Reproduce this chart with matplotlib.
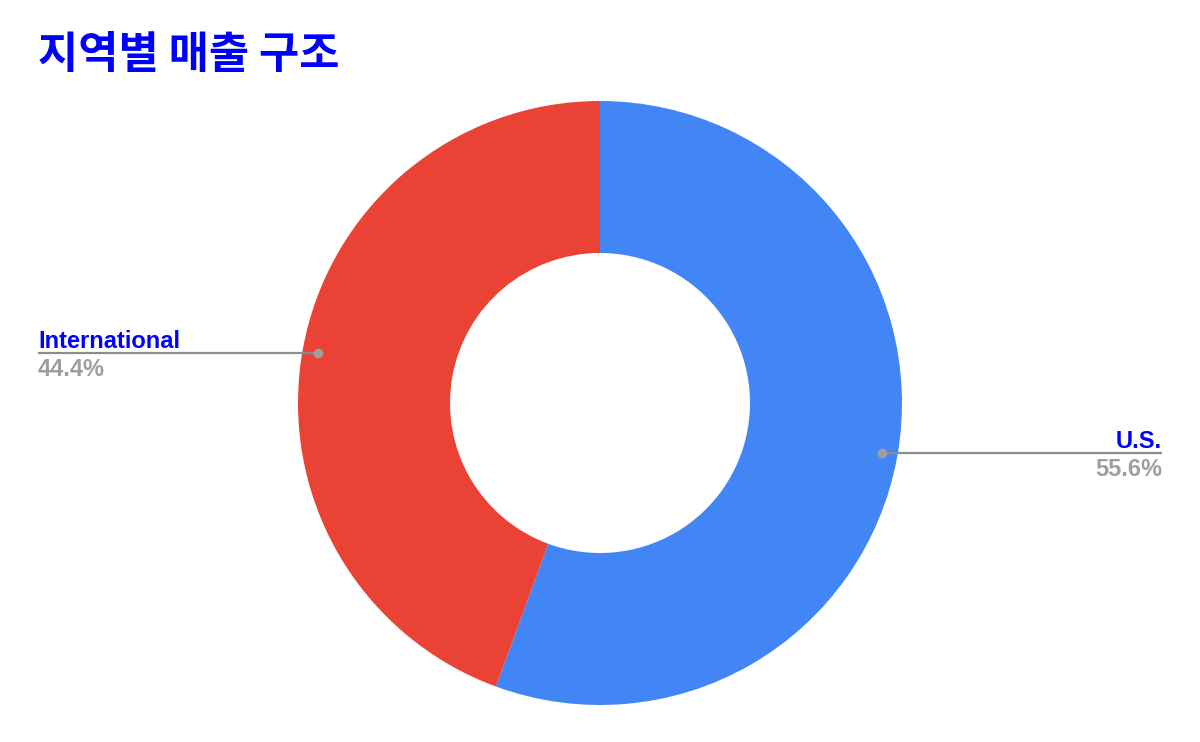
import numpy as np
import matplotlib
matplotlib.use('Agg')
import matplotlib.pyplot as plt

# data
regions = ['U.S.', 'International']
shares = [55.6, 44.4]
colors = ['#4285f4', '#ea4335']
title = '지역별 매출 구조'

W, H = 1200, 742
fig = plt.figure(figsize=(12, 7.42), dpi=100)
ax = fig.add_axes([0, 0, 1, 1])
ax.set_xlim(0, W)
ax.set_ylim(0, H)
ax.axis('off')

cx, cy = 600, H - 403
r_out, r_in = 302, 150

wedges, _ = ax.pie(shares, colors=colors, startangle=90, counterclock=False,
                   center=(cx, cy), radius=r_out,
                   wedgeprops=dict(width=r_out - r_in, linewidth=0))
ax.set_xlim(0, W)
ax.set_ylim(0, H)

lbl_font = 'Liberation Sans'
for w, name, val in zip(wedges, regions, shares):
    mid = np.deg2rad((w.theta1 + w.theta2) / 2)
    dx = cx + 286 * np.cos(mid)
    dy = cy + 286 * np.sin(mid)
    if np.cos(mid) > 0:
        x_end, ha = 1162, 'right'
    else:
        x_end, ha = 38, 'left'
    ax.plot([dx, x_end], [dy, dy], color='#8c8c8c', lw=1.6, solid_capstyle='butt')
    ax.plot(dx, dy, 'o', color='#9e9e9e', ms=7, mec='none')
    ax.text(x_end, dy + 5, name, ha=ha, va='baseline', color='#0000ff',
            fontsize=17, fontweight='bold', family=lbl_font)
    ax.text(x_end, dy - 5, f'{val:.1f}%', ha=ha, va='top', color='#9e9e9e',
            fontsize=17, fontweight='bold', family=lbl_font)

ax.text(38, H - 55, title, ha='left', va='center', color='#0000ff',
        fontsize=31.5, fontweight='bold', family=['Noto Sans CJK KR', 'DejaVu Sans'])

fig.savefig('out.png', dpi=100, facecolor='white')
